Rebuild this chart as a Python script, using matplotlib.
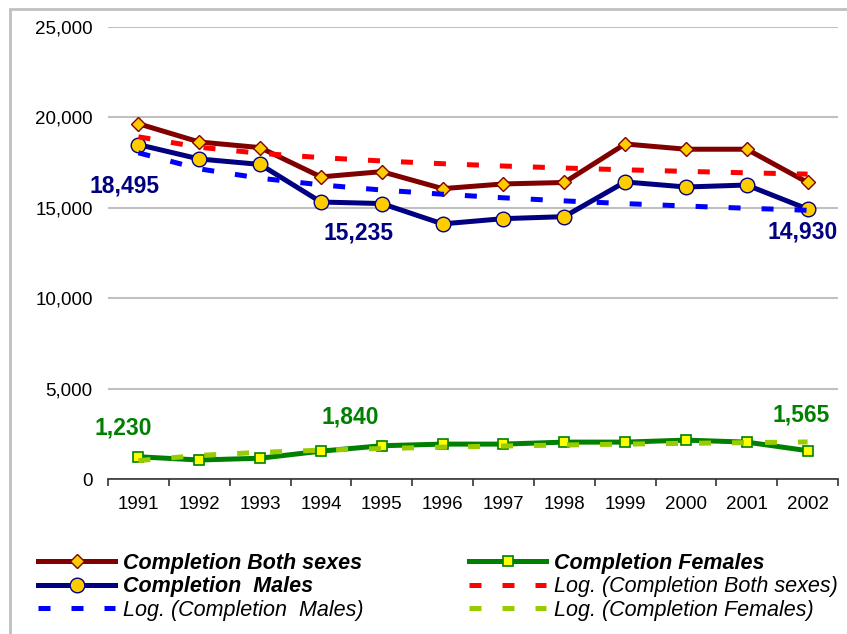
import numpy as np
import matplotlib
matplotlib.use('Agg')
import matplotlib.pyplot as plt
from matplotlib.patches import Rectangle

plt.rcParams['font.family'] = ['Liberation Sans', 'DejaVu Sans']

# data
years = ['1991', '1992', '1993', '1994', '1995', '1996',
         '1997', '1998', '1999', '2000', '2001', '2002']
both_sexes = [19650, 18640, 18330, 16710, 17000, 16060,
              16320, 16400, 18530, 18240, 18240, 16400]
males = [18495, 17700, 17400, 15320, 15235, 14110,
         14400, 14510, 16430, 16150, 16260, 14930]
females = [1230, 1050, 1150, 1540, 1840, 1930,
           1930, 2040, 2040, 2150, 2040, 1565]

# labels shown on the chart: (index, dx, dy in pixels)
male_labels = [(0, -14, -41), (4, -23, -29), (11, -5, -23)]
female_labels = [(0, -15, 29), (4, -32, 29), (11, -6, 36)]

x = np.arange(1, len(years) + 1)

# logarithmic trendlines (like Excel "Log." trendline)
def log_trend(y):
    a, b = np.polyfit(np.log(x), y, 1)
    return a * np.log(x) + b

fig = plt.figure(figsize=(8.47, 6.34), dpi=100)
ax = fig.add_axes([108 / 847, 1 - 479 / 634, 730 / 847, 452 / 634])

# main series
l_both, = ax.plot(x, both_sexes, color='#800000', lw=3.6, marker='D', ms=7.5,
                  mfc='#FFCC00', mec='#800000', mew=1.0, zorder=3)
l_male, = ax.plot(x, males, color='#000080', lw=3.6, marker='o', ms=10.5,
                  mfc='#FFCC00', mec='#000080', mew=1.0, zorder=3)
l_fem, = ax.plot(x, females, color='#008000', lw=3.6, marker='s', ms=7.5,
                 mfc='#FFFF00', mec='#008000', mew=1.2, zorder=3)

# trendlines on top
dash = (0, (2.4, 4.2))
t_both, = ax.plot(x, log_trend(both_sexes), color='#FF0000', lw=3.6,
                  linestyle=dash, zorder=4)
t_male, = ax.plot(x, log_trend(males), color='#0000FF', lw=3.6,
                  linestyle=dash, zorder=4)
t_fem, = ax.plot(x, log_trend(females), color='#99CC00', lw=3.6,
                 linestyle=dash, zorder=4)

# data labels
for i, dx, dy in male_labels:
    ax.annotate(f'{males[i]:,}', (x[i], males[i]), xytext=(dx, dy),
                textcoords='offset pixels', ha='center', va='center',
                fontsize=16.5, fontweight='bold', color='#000080', zorder=5)
for i, dx, dy in female_labels:
    ax.annotate(f'{females[i]:,}', (x[i], females[i]), xytext=(dx, dy),
                textcoords='offset pixels', ha='center', va='center',
                fontsize=16.5, fontweight='bold', color='#008000', zorder=5)

# axes styling
ax.set_xlim(0.5, len(years) + 0.5)
ax.set_ylim(0, 25000)
ax.set_yticks(np.arange(0, 25001, 5000))
ax.set_yticklabels([f'{v:,}' for v in range(0, 25001, 5000)])
ax.yaxis.grid(True, color='#C0C0C0', lw=1.5)
ax.set_axisbelow(True)
for s in ['top', 'right', 'left']:
    ax.spines[s].set_visible(False)
ax.spines['bottom'].set_color('#333333')
ax.spines['bottom'].set_linewidth(1.2)
ax.tick_params(axis='y', length=0, pad=11, labelsize=13.5)

ax.set_xticks(np.arange(0.5, len(years) + 1, 1))
ax.set_xticklabels([])
ax.set_xticks(x, minor=True)
ax.set_xticklabels(years, minor=True)
ax.tick_params(axis='x', which='major', length=5, width=1.2, color='#333333',
               direction='out')
ax.tick_params(axis='x', which='minor', length=0, pad=12, labelsize=13.5)

# legend
handles = [l_both, l_male, t_male, l_fem, t_both, t_fem]
labels = ['Completion Both sexes', 'Completion  Males', 'Log. (Completion  Males)',
          'Completion Females', 'Log. (Completion Both sexes)',
          'Log. (Completion Females)']
leg = fig.legend(handles, labels, ncol=2, loc='upper left',
                 bbox_to_anchor=(27 / 847, 1 - 542 / 634), frameon=False,
                 fontsize=15.5, handlelength=3.6, handletextpad=0.35,
                 labelspacing=0.12, columnspacing=4.9, borderpad=0)
for i, t in enumerate(leg.get_texts()):
    t.set_fontstyle('italic')
    if not labels[i].startswith('Log.'):
        t.set_fontweight('bold')

# chart border
fig.patches.append(Rectangle((10 / 847, -0.02), 1.05, 1 - 9 / 634 + 0.02,
                             transform=fig.transFigure, fill=False,
                             edgecolor='#C0C0C0', lw=2))

fig.savefig('out.png', dpi=100)
